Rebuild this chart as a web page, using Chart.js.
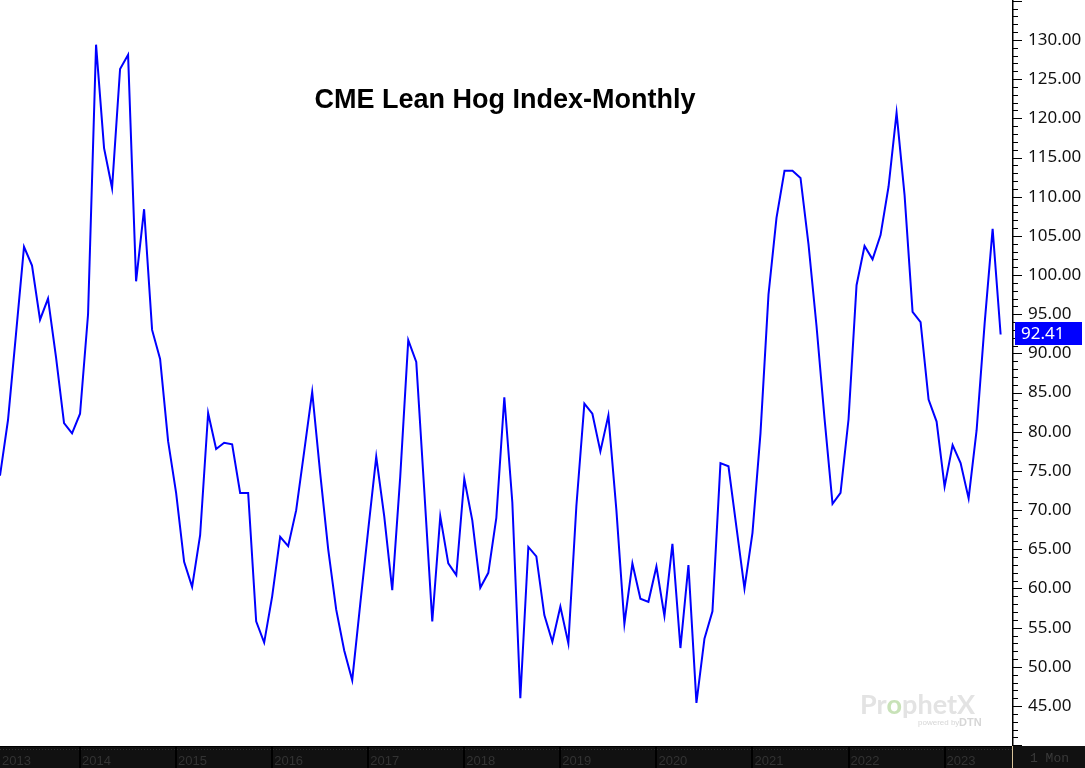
<!DOCTYPE html>
<html>
<head>
<meta charset="utf-8">
<script src="https://cdn.jsdelivr.net/npm/chart.js@4.4.1/dist/chart.umd.min.js"></script>
<style>
html,body{margin:0;padding:0;background:#fff;}
#wrap{position:relative;width:1085px;height:768px;overflow:hidden;}
canvas{display:block;}
</style>
</head>
<body>
<div id="wrap"><canvas id="c" width="1085" height="768"></canvas></div>
<script>
// ---- data ----
const chartTitle = 'CME Lean Hog Index-Monthly';
const months = [
  '2013-03','2013-04','2013-05','2013-06','2013-07','2013-08','2013-09','2013-10','2013-11','2013-12',
  '2014-01','2014-02','2014-03','2014-04','2014-05','2014-06','2014-07','2014-08','2014-09','2014-10','2014-11','2014-12',
  '2015-01','2015-02','2015-03','2015-04','2015-05','2015-06','2015-07','2015-08','2015-09','2015-10','2015-11','2015-12',
  '2016-01','2016-02','2016-03','2016-04','2016-05','2016-06','2016-07','2016-08','2016-09','2016-10','2016-11','2016-12',
  '2017-01','2017-02','2017-03','2017-04','2017-05','2017-06','2017-07','2017-08','2017-09','2017-10','2017-11','2017-12',
  '2018-01','2018-02','2018-03','2018-04','2018-05','2018-06','2018-07','2018-08','2018-09','2018-10','2018-11','2018-12',
  '2019-01','2019-02','2019-03','2019-04','2019-05','2019-06','2019-07','2019-08','2019-09','2019-10','2019-11','2019-12',
  '2020-01','2020-02','2020-03','2020-04','2020-05','2020-06','2020-07','2020-08','2020-09','2020-10','2020-11','2020-12',
  '2021-01','2021-02','2021-03','2021-04','2021-05','2021-06','2021-07','2021-08','2021-09','2021-10','2021-11','2021-12',
  '2022-01','2022-02','2022-03','2022-04','2022-05','2022-06','2022-07','2022-08','2022-09','2022-10','2022-11','2022-12',
  '2023-01','2023-02','2023-03','2023-04','2023-05','2023-06','2023-07','2023-08'
];
const hogIndex = [
  74.4, 81.5, 92.5, 103.6, 101.2, 94.3, 97.0, 89.5, 81.1, 79.8,
  82.3, 95.0, 129.4, 116.2, 111.1, 126.3, 128.1, 99.2, 108.4, 93.0, 89.3, 78.8,
  72.2, 63.4, 60.2, 66.8, 82.4, 77.8, 78.6, 78.4, 72.2, 72.2, 55.8, 53.1,
  59.0, 66.6, 65.4, 70.0, 77.5, 85.1, 74.7, 65.0, 57.3, 52.1, 48.3, 58.0,
  67.5, 76.8, 69.2, 59.8, 74.3, 91.7, 88.9, 72.5, 55.8, 69.2, 63.2, 61.7,
  74.0, 68.7, 60.1, 62.0, 69.0, 84.4, 71.0, 46.0, 65.3, 64.1, 56.6, 53.2,
  57.7, 53.0, 70.5, 83.6, 82.3, 77.5, 82.1, 70.0, 55.5, 63.2, 58.7, 58.3,
  62.8, 56.5, 65.7, 52.4, 63.0, 45.4, 53.6, 57.1, 76.0, 75.6, 67.8, 60.0,
  67.1, 79.8, 97.5, 107.3, 113.3, 113.3, 112.4, 103.9, 93.5, 81.7, 70.8, 72.2,
  81.6, 98.7, 103.7, 102.0, 105.1, 111.3, 120.7, 110.2, 95.3, 94.0, 84.1, 81.3,
  73.0, 78.3, 76.0, 71.5, 80.2, 93.8, 105.9, 92.41
];
const yearLabels = ['2013','2014','2015','2016','2017','2018','2019','2020','2021','2022','2023'];
const yTickValues = [45,50,55,60,65,70,75,80,85,90,95,100,105,110,115,120,125,130];
const periodLabel = '1 Mon';

// ---- helpers ----
function monthIndex(s){ const p = s.split('-'); return (parseInt(p[0],10)-2013)*12 + (parseInt(p[1],10)-1); }
const points = months.map((m,i)=>({x: monthIndex(m), y: hogIndex[i]}));
const lastValue = hogIndex[hogIndex.length-1];

const decorPlugin = {
  id: 'decor',
  beforeDatasetsDraw(chart){
    const ctx = chart.ctx;
    ctx.save();
    // watermark
    ctx.textBaseline = 'alphabetic';
    ctx.textAlign = 'left';
    ctx.font = 'bold 27px Lato, "Liberation Sans", sans-serif';
    let x0 = 860, by = 714;
    ctx.fillStyle = '#e3e3e3';
    ctx.fillText('Pr', x0, by); x0 += ctx.measureText('Pr').width;
    ctx.fillStyle = '#c8e2b8';
    ctx.fillText('o', x0, by); x0 += ctx.measureText('o').width;
    ctx.fillStyle = '#e3e3e3';
    ctx.fillText('phetX', x0, by);
    ctx.font = '8px "Liberation Sans", sans-serif';
    ctx.fillStyle = '#d6d6d6';
    ctx.fillText('powered by', 918, 725);
    ctx.font = 'bold 11px "Liberation Sans", sans-serif';
    ctx.fillText('DTN', 959, 726);
    // title
    ctx.fillStyle = '#000';
    ctx.textAlign = 'center';
    ctx.font = 'bold 27px "Liberation Sans", Arial, sans-serif';
    ctx.fillText(chartTitle, 505, 108);
    ctx.restore();
  },
  afterDraw(chart){
    const {ctx, chartArea: a, scales: {x, y}} = chart;
    const W = chart.width, H = chart.height;
    ctx.save();
    // bottom band
    ctx.fillStyle = '#111111';
    ctx.fillRect(0, a.bottom, W, H - a.bottom);
    ctx.fillStyle = '#000';
    ctx.fillRect(0, a.bottom, a.right, 1);
    // dotted minor marks
    ctx.strokeStyle = '#2e2e2e';
    ctx.lineWidth = 1;
    ctx.setLineDash([1,2]);
    ctx.beginPath();
    ctx.moveTo(0, a.bottom + 3.5);
    ctx.lineTo(a.right, a.bottom + 3.5);
    ctx.stroke();
    ctx.setLineDash([]);
    // year separators & labels
    ctx.font = '13px "Liberation Sans", Arial, sans-serif';
    ctx.textAlign = 'left';
    ctx.textBaseline = 'alphabetic';
    yearLabels.forEach(yr => {
      const px = x.getPixelForValue(monthIndex(yr + '-01'));
      if (px >= a.left) {
        ctx.fillStyle = '#000';
        ctx.fillRect(Math.round(px) - 1, a.bottom, 2, H - a.bottom);
      }
      ctx.fillStyle = '#333333';
      ctx.fillText(yr, Math.max(px, a.left) + 2, H - 3);
    });
    // right box
    ctx.fillStyle = '#d8c39a';
    ctx.fillRect(a.right, a.bottom, 1, H - a.bottom);
    ctx.fillStyle = '#3a3a3a';
    ctx.font = '13px "Liberation Mono", "DejaVu Sans Mono", monospace';
    ctx.textAlign = 'center';
    ctx.fillText(periodLabel, (a.right + W) / 2 + 1, H - 6);
    // y axis line + ticks
    ctx.strokeStyle = '#000';
    ctx.lineWidth = 1.5;
    ctx.beginPath();
    ctx.moveTo(a.right + 0.75, 0);
    ctx.lineTo(a.right + 0.75, a.bottom);
    ctx.stroke();
    ctx.beginPath();
    for (let v = Math.ceil(y.min); v <= Math.floor(y.max); v++) {
      const py = Math.round(y.getPixelForValue(v)) + 0.5;
      const len = (v % 5 === 0) ? 10 : 6;
      ctx.moveTo(a.right, py);
      ctx.lineTo(a.right + len, py);
    }
    ctx.lineWidth = 1;
    ctx.stroke();
    // last value label
    const py = y.getPixelForValue(lastValue);
    ctx.fillStyle = '#0000ff';
    ctx.fillRect(a.right + 3, Math.round(py) - 13, 67, 23);
    ctx.fillStyle = '#ffffff';
    ctx.font = '17px "Noto Sans", sans-serif';
    ctx.textAlign = 'left';
    ctx.textBaseline = 'middle';
    ctx.fillText(lastValue.toFixed(2), a.right + 9, Math.round(py) - 1);
    ctx.restore();
  }
};

new Chart(document.getElementById('c'), {
  type: 'line',
  data: {
    datasets: [{
      data: points,
      borderColor: '#0000ff',
      borderWidth: 2,
      pointRadius: 0,
      tension: 0,
      fill: false
    }]
  },
  options: {
    responsive: false,
    animation: false,
    devicePixelRatio: 1,
    layout: { padding: { left: 0, right: 0, top: 0, bottom: 22 } },
    plugins: { legend: { display: false }, tooltip: { enabled: false }, title: { display: false } },
    scales: {
      x: {
        type: 'linear',
        display: false,
        min: 2.0,
        max: 128.42
      },
      y: {
        position: 'right',
        min: 39.9,
        max: 135.1,
        grid: { display: false, drawTicks: false },
        border: { display: false },
        afterBuildTicks: s => { s.ticks = yTickValues.map(v => ({ value: v })); },
        afterFit: s => { s.width = 73; s.paddingTop = 0; s.paddingBottom = 0; },
        ticks: {
          padding: 16,
          color: '#111111',
          font: { family: '"Noto Sans", sans-serif', size: 17 },
          callback: v => Number(v).toFixed(2)
        }
      }
    }
  },
  plugins: [decorPlugin]
});
</script>
</body>
</html>
